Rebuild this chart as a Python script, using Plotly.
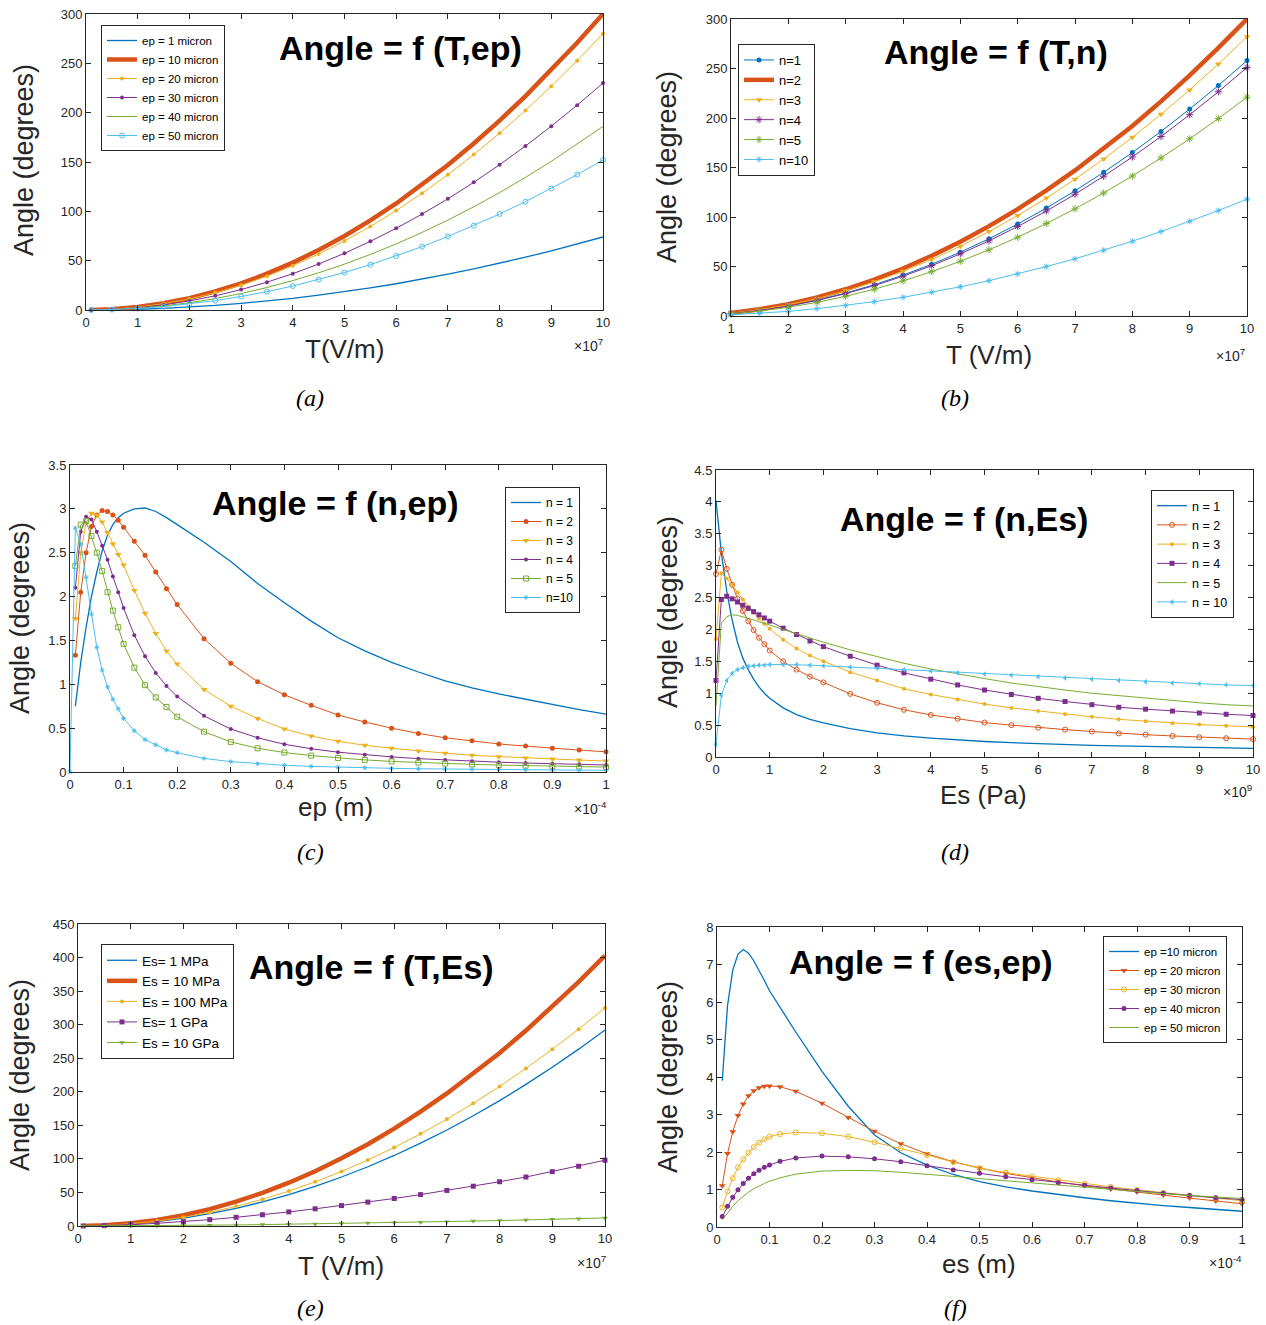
import plotly.graph_objects as go

# ---------------- data ----------------
# (a) Angle = f(T, ep)   T in units of 1e7 V/m
T_a = [0.1, 0.5, 1, 1.5, 2, 2.5, 3, 3.5, 4, 4.5, 5, 5.5, 6, 6.5, 7, 7.5, 8, 8.5, 9, 9.5, 10]
a_ep1 = [0.0, 0.19, 0.74, 1.7, 3.0, 4.6, 6.7, 9.1, 11.8, 15.0, 18.5, 22.4, 26.6, 31.3, 36.3, 41.6, 47.4, 53.5, 60.0, 66.8, 74.0]
a_ep10 = [0.03, 0.75, 3.0, 6.8, 12.0, 18.8, 27.0, 36.8, 48.0, 60.8, 75.0, 90.8, 108.0, 126.8, 147.0, 168.8, 192.0, 216.8, 243.0, 270.8, 300.0]
a_ep20 = [0.03, 0.7, 2.8, 6.3, 11.2, 17.5, 25.2, 34.3, 44.8, 56.7, 70.0, 84.7, 100.8, 118.3, 137.2, 157.5, 179.2, 202.3, 226.8, 252.7, 280.0]
a_ep30 = [0.02, 0.6, 2.3, 5.2, 9.2, 14.4, 20.7, 28.2, 36.8, 46.6, 57.5, 69.6, 82.8, 97.2, 112.7, 129.4, 147.2, 166.2, 186.3, 207.6, 230.0]
a_ep40 = [0.02, 0.5, 1.9, 4.2, 7.4, 11.6, 16.7, 22.8, 29.8, 37.7, 46.5, 56.3, 67.0, 78.6, 91.1, 104.6, 119.0, 134.4, 150.7, 167.9, 186.0]
a_ep50 = [0.02, 0.4, 1.5, 3.4, 6.1, 9.5, 13.7, 18.6, 24.3, 30.8, 38.0, 46.0, 54.7, 64.2, 74.5, 85.5, 97.3, 109.8, 123.1, 137.2, 152.0]
a_names = ["ep = 1 micron", "ep = 10 micron", "ep = 20 micron", "ep = 30 micron", "ep = 40 micron", "ep = 50 micron"]

# (b) Angle = f(T, n)
T_b = [1, 1.5, 2, 2.5, 3, 3.5, 4, 4.5, 5, 5.5, 6, 6.5, 7, 7.5, 8, 8.5, 9, 9.5, 10]
b_n1 = [2.6, 5.8, 10.3, 16.1, 23.2, 31.6, 41.3, 52.2, 64.5, 78.0, 92.9, 109.0, 126.4, 145.1, 165.1, 186.4, 209.0, 232.8, 258.0]
b_n2 = [3.0, 6.8, 12.0, 18.8, 27.0, 36.8, 48.0, 60.8, 75.0, 90.8, 108.0, 126.8, 147.0, 168.8, 192.0, 216.8, 243.0, 270.8, 300.0]
b_n3 = [2.8, 6.3, 11.3, 17.6, 25.4, 34.5, 45.1, 57.1, 70.5, 85.3, 101.5, 119.1, 138.2, 158.6, 180.5, 203.7, 228.4, 254.5, 282.0]
b_n4 = [2.5, 5.6, 10.0, 15.7, 22.6, 30.7, 40.2, 50.8, 62.8, 75.9, 90.4, 106.0, 123.0, 141.2, 160.6, 181.3, 203.3, 226.5, 251.0]
b_n5 = [2.2, 5.0, 8.8, 13.8, 19.9, 27.1, 35.4, 44.8, 55.3, 66.9, 79.6, 93.4, 108.3, 124.3, 141.4, 159.7, 179.0, 199.5, 221.0]
b_n10 = [1.2, 2.7, 4.7, 7.4, 10.6, 14.5, 18.9, 23.9, 29.5, 35.7, 42.5, 49.9, 57.8, 66.4, 75.5, 85.3, 95.6, 106.5, 118.0]
b_names = ["n=1", "n=2", "n=3", "n=4", "n=5", "n=10"]

# (c) Angle = f(n, ep)   ep in units of 1e-4 m
X_c = [0.01, 0.02, 0.03, 0.04, 0.05, 0.06, 0.07, 0.08, 0.09, 0.10, 0.12, 0.14, 0.16, 0.18, 0.20,
       0.25, 0.30, 0.35, 0.40, 0.45, 0.50, 0.55, 0.60, 0.65, 0.70, 0.75, 0.80, 0.85, 0.90, 0.95, 1.00]
X_c10 = [0.0] + X_c
c_n1 = [0.75, 1.25, 1.65, 2.0, 2.28, 2.52, 2.7, 2.82, 2.9, 2.95, 3.0, 3.01, 2.97, 2.9, 2.82,
        2.62, 2.4, 2.15, 1.93, 1.72, 1.53, 1.38, 1.25, 1.14, 1.04, 0.96, 0.89, 0.83, 0.77, 0.71, 0.66]
c_n2 = [1.33, 2.05, 2.5, 2.8, 2.93, 2.98, 2.97, 2.93, 2.87, 2.79, 2.63, 2.47, 2.28, 2.09, 1.91,
        1.52, 1.24, 1.03, 0.88, 0.76, 0.65, 0.57, 0.5, 0.44, 0.39, 0.355, 0.32, 0.295, 0.27, 0.25, 0.23]
c_n3 = [1.75, 2.5, 2.84, 2.95, 2.93, 2.85, 2.73, 2.6, 2.48, 2.36, 2.07, 1.81, 1.58, 1.38, 1.23,
        0.94, 0.75, 0.61, 0.49, 0.41, 0.35, 0.305, 0.27, 0.24, 0.215, 0.19, 0.175, 0.16, 0.147, 0.136, 0.125]
c_n4 = [2.1, 2.74, 2.91, 2.88, 2.74, 2.58, 2.42, 2.23, 2.05, 1.87, 1.56, 1.32, 1.13, 0.98, 0.86,
        0.64, 0.49, 0.39, 0.316, 0.265, 0.226, 0.196, 0.172, 0.152, 0.137, 0.123, 0.112, 0.102, 0.094, 0.087, 0.08]
c_n5 = [2.35, 2.82, 2.86, 2.69, 2.5, 2.29, 2.05, 1.84, 1.65, 1.46, 1.19, 0.99, 0.85, 0.74, 0.63,
        0.46, 0.343, 0.27, 0.222, 0.187, 0.16, 0.138, 0.121, 0.108, 0.096, 0.087, 0.079, 0.072, 0.066, 0.061, 0.056]
c_n10 = [0.0, 2.78, 2.6, 2.22, 1.8, 1.42, 1.16, 0.97, 0.83, 0.72, 0.61, 0.47, 0.37, 0.31, 0.25, 0.22,
         0.155, 0.118, 0.094, 0.077, 0.064, 0.055, 0.048, 0.042, 0.037, 0.033, 0.03, 0.027, 0.025, 0.023, 0.021, 0.02]
c_names = ["n = 1", "n = 2", "n = 3", "n = 4", "n = 5", "n=10"]

# (d) Angle = f(n, Es)   Es in units of 1e9 Pa
X_d = [0, 0.1, 0.2, 0.3, 0.4, 0.5, 0.6, 0.7, 0.8, 0.9, 1.0, 1.25, 1.5, 1.75, 2, 2.5, 3, 3.5, 4, 4.5,
       5, 5.5, 6, 6.5, 7, 7.5, 8, 8.5, 9, 9.5, 10]
d_n1 = [4.02, 3.2, 2.6, 2.15, 1.8, 1.55, 1.37, 1.22, 1.1, 1.0, 0.92, 0.77, 0.665, 0.59, 0.535, 0.445, 0.378, 0.33,
        0.295, 0.266, 0.243, 0.224, 0.208, 0.195, 0.183, 0.173, 0.164, 0.156, 0.149, 0.142, 0.136]
d_n2 = [2.87, 3.25, 2.95, 2.7, 2.48, 2.29, 2.13, 1.99, 1.87, 1.77, 1.67, 1.5, 1.37, 1.26, 1.17, 0.99, 0.85, 0.74,
        0.66, 0.6, 0.54, 0.5, 0.46, 0.43, 0.4, 0.37, 0.35, 0.33, 0.31, 0.295, 0.28]
d_n3 = [1.85, 2.88, 2.8, 2.7, 2.58, 2.47, 2.36, 2.26, 2.17, 2.09, 2.01, 1.84, 1.7, 1.59, 1.5, 1.33, 1.2, 1.07,
        0.98, 0.9, 0.83, 0.77, 0.72, 0.67, 0.63, 0.59, 0.56, 0.53, 0.51, 0.49, 0.47]
d_n4 = [1.2, 2.47, 2.52, 2.48, 2.43, 2.38, 2.33, 2.28, 2.23, 2.18, 2.13, 2.02, 1.92, 1.82, 1.73, 1.58, 1.44, 1.32,
        1.22, 1.13, 1.05, 0.98, 0.92, 0.87, 0.82, 0.78, 0.75, 0.72, 0.69, 0.67, 0.65]
d_n5 = [0.8, 2.1, 2.2, 2.23, 2.22, 2.2, 2.18, 2.15, 2.12, 2.1, 2.07, 2.0, 1.93, 1.86, 1.8, 1.68, 1.57, 1.47,
        1.38, 1.3, 1.23, 1.16, 1.1, 1.05, 1.0, 0.96, 0.92, 0.88, 0.85, 0.82, 0.8]
d_n10 = [0.2, 0.97, 1.2, 1.31, 1.37, 1.4, 1.42, 1.43, 1.44, 1.44, 1.45, 1.45, 1.45, 1.44, 1.43, 1.41, 1.39, 1.37,
         1.35, 1.32, 1.3, 1.28, 1.26, 1.24, 1.22, 1.2, 1.18, 1.16, 1.15, 1.13, 1.12]
d_names = ["n = 1", "n = 2", "n = 3", "n = 4", "n = 5", "n = 10"]

# (e) Angle = f(T, Es)
T_e = [0.1, 0.5, 1, 1.5, 2, 2.5, 3, 3.5, 4, 4.5, 5, 5.5, 6, 6.5, 7, 7.5, 8, 8.5, 9, 9.5, 10]
e_1M = [0.03, 0.7, 2.9, 6.6, 11.7, 18.3, 26.3, 35.8, 46.7, 59.1, 73.0, 88.3, 105.1, 123.4, 143.1, 164.3, 186.9, 211.0, 236.5, 263.5, 292.0]
e_10M = [0.04, 1.0, 4.0, 9.1, 16.1, 25.2, 36.3, 49.4, 64.5, 81.6, 100.8, 121.9, 145.1, 170.3, 197.5, 226.7, 257.9, 291.2, 326.4, 363.7, 403.0]
e_100M = [0.03, 0.8, 3.3, 7.3, 13.0, 20.3, 29.3, 39.8, 52.0, 65.8, 81.3, 98.3, 117.0, 137.3, 159.3, 182.8, 208.0, 234.8, 263.3, 293.3, 325.0]
e_1G = [0.04, 0.6, 2.0, 4.0, 6.5, 9.5, 13.0, 16.8, 21.0, 25.6, 30.4, 35.6, 41.0, 46.8, 53.0, 59.3, 66.0, 73.0, 81.0, 89.0, 98.0]
e_10G = [0.0, 0.07, 0.24, 0.5, 0.8, 1.15, 1.6, 2.05, 2.6, 3.1, 3.7, 4.35, 5.0, 5.7, 6.5, 7.3, 8.1, 8.9, 9.9, 10.9, 12.0]
e_names = ["Es= 1 MPa", "Es = 10 MPa", "Es = 100 MPa", "Es= 1 GPa", "Es = 10 GPa"]

# (f) Angle = f(es, ep)   es in units of 1e-4 m
X_f = [0.01, 0.02, 0.03, 0.04, 0.05, 0.06, 0.07, 0.08, 0.09, 0.10, 0.12, 0.15, 0.2, 0.25, 0.3, 0.35, 0.4,
       0.45, 0.5, 0.55, 0.6, 0.65, 0.7, 0.75, 0.8, 0.85, 0.9, 0.95, 1.0]
f_10 = [3.9, 5.9, 6.85, 7.28, 7.4, 7.3, 7.1, 6.85, 6.58, 6.3, 5.85, 5.2, 4.15, 3.22, 2.45, 1.98, 1.65,
        1.4, 1.21, 1.07, 0.96, 0.86, 0.78, 0.7, 0.63, 0.57, 0.52, 0.47, 0.42]
f_20 = [1.1, 1.96, 2.54, 2.97, 3.28, 3.5, 3.63, 3.71, 3.75, 3.76, 3.74, 3.62, 3.3, 2.92, 2.55, 2.22, 1.95,
        1.74, 1.57, 1.43, 1.31, 1.2, 1.1, 1.01, 0.93, 0.85, 0.77, 0.69, 0.62]
f_30 = [0.52, 0.95, 1.3, 1.59, 1.8, 1.98, 2.13, 2.25, 2.34, 2.41, 2.48, 2.52, 2.5, 2.41, 2.26, 2.1, 1.92,
        1.73, 1.57, 1.45, 1.35, 1.25, 1.15, 1.07, 0.99, 0.91, 0.84, 0.77, 0.7]
f_40 = [0.28, 0.55, 0.79, 0.99, 1.16, 1.3, 1.42, 1.51, 1.59, 1.65, 1.75, 1.84, 1.89, 1.87, 1.82, 1.74, 1.63,
        1.52, 1.43, 1.34, 1.26, 1.18, 1.11, 1.04, 0.97, 0.9, 0.84, 0.78, 0.73]
f_50 = [0.19, 0.38, 0.55, 0.7, 0.82, 0.93, 1.02, 1.1, 1.16, 1.22, 1.31, 1.41, 1.49, 1.51, 1.5, 1.46, 1.41,
        1.35, 1.29, 1.23, 1.17, 1.11, 1.05, 0.99, 0.94, 0.89, 0.84, 0.8, 0.76]
f_names = ["ep =10 micron", "ep = 20 micron", "ep = 30 micron", "ep = 40 micron", "ep = 50 micron"]

panel_titles = ["Angle = f (T,ep)", "Angle = f (T,n)", "Angle = f (n,ep)",
                "Angle = f (n,Es)", "Angle = f (T,Es)", "Angle = f (es,ep)"]
x_titles = ["T(V/m)", "T (V/m)", "ep (m)", "Es (Pa)", "T (V/m)", "es (m)"]
x_exponents = ["7", "7", "-4", "9", "7", "-4"]
captions = ["(a)", "(b)", "(c)", "(d)", "(e)", "(f)"]
y_title = "Angle (degrees)"

# ---------------- styling ----------------
W, H = 1266, 1325
C = ['#0072BD', '#D95319', '#EDB120', '#7E2F8E', '#77AC30', '#4DBEEE']
FONT = 'Liberation Sans, Arial, Helvetica, sans-serif'
TXT = '#262626'


def PX(x):
    return x / W


def PY(y):
    return 1 - y / H


fig = go.Figure()

# pixel boxes (left, top, right, bottom), ranges, ticks
panels = [
    dict(box=(86, 14, 603, 310), xr=[0, 10], yr=[0, 300], xd=1, x0=0, yd=50),
    dict(box=(731, 19, 1247, 316), xr=[1, 10], yr=[0, 300], xd=1, x0=1, yd=50),
    dict(box=(70, 465, 606, 772), xr=[0, 1], yr=[0, 3.5], xd=0.1, x0=0, yd=0.5),
    dict(box=(716, 470, 1253, 757), xr=[0, 10], yr=[0, 4.5], xd=1, x0=0, yd=0.5),
    dict(box=(78, 924, 605, 1226), xr=[0, 10], yr=[0, 450], xd=1, x0=0, yd=50),
    dict(box=(717, 927, 1242, 1227), xr=[0, 1], yr=[0, 8], xd=0.1, x0=0, yd=1),
]

layout_axes = {}
for i, p in enumerate(panels):
    l, t, r, b = p['box']
    sfx = '' if i == 0 else str(i + 1)
    common = dict(showline=True, linecolor=TXT, linewidth=1, mirror='ticks', ticks='inside',
                  ticklen=5, tickwidth=1, tickcolor=TXT, showgrid=False, zeroline=False,
                  automargin=False, tickfont=dict(family=FONT, size=13, color=TXT))
    layout_axes['xaxis' + sfx] = dict(common, domain=[PX(l), PX(r)], range=p['xr'],
                                      anchor='y' + sfx, tick0=p['x0'], dtick=p['xd'])
    layout_axes['yaxis' + sfx] = dict(common, domain=[PY(b), PY(t)], range=p['yr'],
                                      anchor='x' + sfx, tick0=0, dtick=p['yd'])


def add(panel, x, y, name, color, width=1.2, symbol=None, msize=4):
    sfx = '' if panel == 0 else str(panel + 1)
    kw = dict(x=x, y=y, name=name, xaxis='x' + sfx, yaxis='y' + sfx,
              legend='legend' if panel == 0 else 'legend' + sfx, cliponaxis=False,
              line=dict(color=color, width=width))
    if symbol:
        mk = dict(symbol=symbol, size=msize, color=color)
        if symbol.endswith('open'):
            mk['line'] = dict(color=color, width=1)
        kw['marker'] = mk
        kw['mode'] = 'lines+markers'
    else:
        kw['mode'] = 'lines'
    fig.add_trace(go.Scatter(**kw))


# (a)
add(0, T_a, a_ep1, a_names[0], C[0], 1.3)
add(0, T_a, a_ep10, a_names[1], C[1], 4.5)
add(0, T_a, a_ep20, a_names[2], C[2], 1.0, 'circle', 4)
add(0, T_a, a_ep30, a_names[3], C[3], 1.0, 'circle', 4)
add(0, T_a, a_ep40, a_names[4], C[4], 1.0)
add(0, T_a, a_ep50, a_names[5], C[5], 1.0, 'circle-open', 5)
# (b)
add(1, T_b, b_n1, b_names[0], C[0], 1.0, 'circle', 5)
add(1, T_b, b_n2, b_names[1], C[1], 4.5)
add(1, T_b, b_n3, b_names[2], C[2], 1.0, 'triangle-down', 6)
add(1, T_b, b_n4, b_names[3], C[3], 1.0, 'asterisk-open', 6)
add(1, T_b, b_n5, b_names[4], C[4], 1.0, 'asterisk-open', 6)
add(1, T_b, b_n10, b_names[5], C[5], 1.0, 'asterisk-open', 5)
# (c)
add(2, X_c, c_n1, c_names[0], C[0], 1.3)
add(2, X_c, c_n2, c_names[1], C[1], 1.0, 'circle', 5)
add(2, X_c, c_n3, c_names[2], C[2], 1.0, 'triangle-down', 6)
add(2, X_c, c_n4, c_names[3], C[3], 1.0, 'circle', 4)
add(2, X_c, c_n5, c_names[4], C[4], 1.0, 'square-open', 5)
add(2, X_c10, c_n10, c_names[5], C[5], 1.0, 'asterisk-open', 4)
# (d)
add(3, X_d, d_n1, d_names[0], C[0], 1.3)
add(3, X_d, d_n2, d_names[1], C[1], 1.0, 'circle-open', 5)
add(3, X_d, d_n3, d_names[2], C[2], 1.0, 'circle', 4)
add(3, X_d, d_n4, d_names[3], C[3], 1.0, 'square', 5)
add(3, X_d, d_n5, d_names[4], C[4], 1.0)
add(3, X_d, d_n10, d_names[5], C[5], 1.0, 'triangle-left', 5)
# (e)
add(4, T_e, e_1M, e_names[0], C[0], 1.3)
add(4, T_e, e_10M, e_names[1], C[1], 4.5)
add(4, T_e, e_100M, e_names[2], C[2], 1.0, 'circle', 4)
add(4, T_e, e_1G, e_names[3], C[3], 1.0, 'square', 5)
add(4, T_e, e_10G, e_names[4], C[4], 1.0, 'triangle-down', 5)
# (f)
add(5, X_f, f_10, f_names[0], C[0], 1.3)
add(5, X_f, f_20, f_names[1], C[1], 1.0, 'triangle-down', 6)
add(5, X_f, f_30, f_names[2], C[2], 1.0, 'circle-open', 5)
add(5, X_f, f_40, f_names[3], C[3], 1.0, 'circle', 5)
add(5, X_f, f_50, f_names[4], C[4], 1.0)

# legends: (anchor x px, top px, x-anchor, font size)
legend_pos = [(101, 25, 'left', 11.5), (738, 44, 'left', 13), (580, 487, 'right', 12),
              (1234, 490, 'right', 12.5), (101, 944, 'left', 13.5), (1227, 936, 'right', 11.5)]
legends = {}
for i, (lx, ly, xa, fs) in enumerate(legend_pos):
    key = 'legend' if i == 0 else 'legend' + str(i + 1)
    legends[key] = dict(x=PX(lx), y=PY(ly), xanchor=xa, yanchor='top', xref='paper', yref='paper',
                        bgcolor='white', bordercolor=TXT, borderwidth=1, itemwidth=30,
                        tracegroupgap=0, font=dict(family=FONT, size=fs, color='black'))

# annotations
title_pos = [(401, 48), (996, 52), (335, 503), (964, 519), (371, 967), (921, 962)]
xt_pos = [(344, 349), (989, 355), (335, 807), (983, 795), (341, 1266), (979, 1264)]
yt_pos = [(24, 160), (667, 167), (20, 618), (668, 612), (20, 1075), (668, 1077)]
exp_pos = [(588, 345), (1230, 355), (590, 808), (1237, 791), (591, 1262), (1225, 1262)]
cap_pos = [(310, 398), (955, 398), (310, 852), (955, 852), (310, 1308), (955, 1308)]

ann = []
for i in range(6):
    ann.append(dict(text='<b>%s</b>' % panel_titles[i], x=PX(title_pos[i][0]), y=PY(title_pos[i][1]),
                    xref='paper', yref='paper', showarrow=False, xanchor='center', yanchor='middle',
                    font=dict(family=FONT, size=34, color='black')))
    ann.append(dict(text=x_titles[i], x=PX(xt_pos[i][0]), y=PY(xt_pos[i][1]),
                    xref='paper', yref='paper', showarrow=False, xanchor='center', yanchor='middle',
                    font=dict(family=FONT, size=26, color=TXT)))
    ann.append(dict(text=y_title, x=PX(yt_pos[i][0]), y=PY(yt_pos[i][1]), textangle=-90,
                    xref='paper', yref='paper', showarrow=False, xanchor='center', yanchor='middle',
                    font=dict(family=FONT, size=27, color=TXT)))
    ann.append(dict(text='\u00d710<sup>%s</sup>' % x_exponents[i], x=PX(exp_pos[i][0]), y=PY(exp_pos[i][1]),
                    xref='paper', yref='paper', showarrow=False, xanchor='center', yanchor='middle',
                    font=dict(family=FONT, size=14, color=TXT)))
    ann.append(dict(text='<i>%s</i>' % captions[i], x=PX(cap_pos[i][0]), y=PY(cap_pos[i][1]),
                    xref='paper', yref='paper', showarrow=False, xanchor='center', yanchor='middle',
                    font=dict(family='Liberation Serif, Times New Roman, serif', size=24, color='black')))

fig.update_layout(template='none', width=W, height=H,
                  margin=dict(l=0, r=0, t=0, b=0, pad=0, autoexpand=False),
                  paper_bgcolor='white', plot_bgcolor='white', showlegend=True,
                  annotations=ann, **layout_axes, **legends)

# remove the default 8px page margin so the figure sits at the window origin
fig.write_html("out.html", config={'displayModeBar': False},
               post_script="document.body.style.margin='0';document.body.style.padding='0';"
                           "document.documentElement.style.overflow='hidden';")
